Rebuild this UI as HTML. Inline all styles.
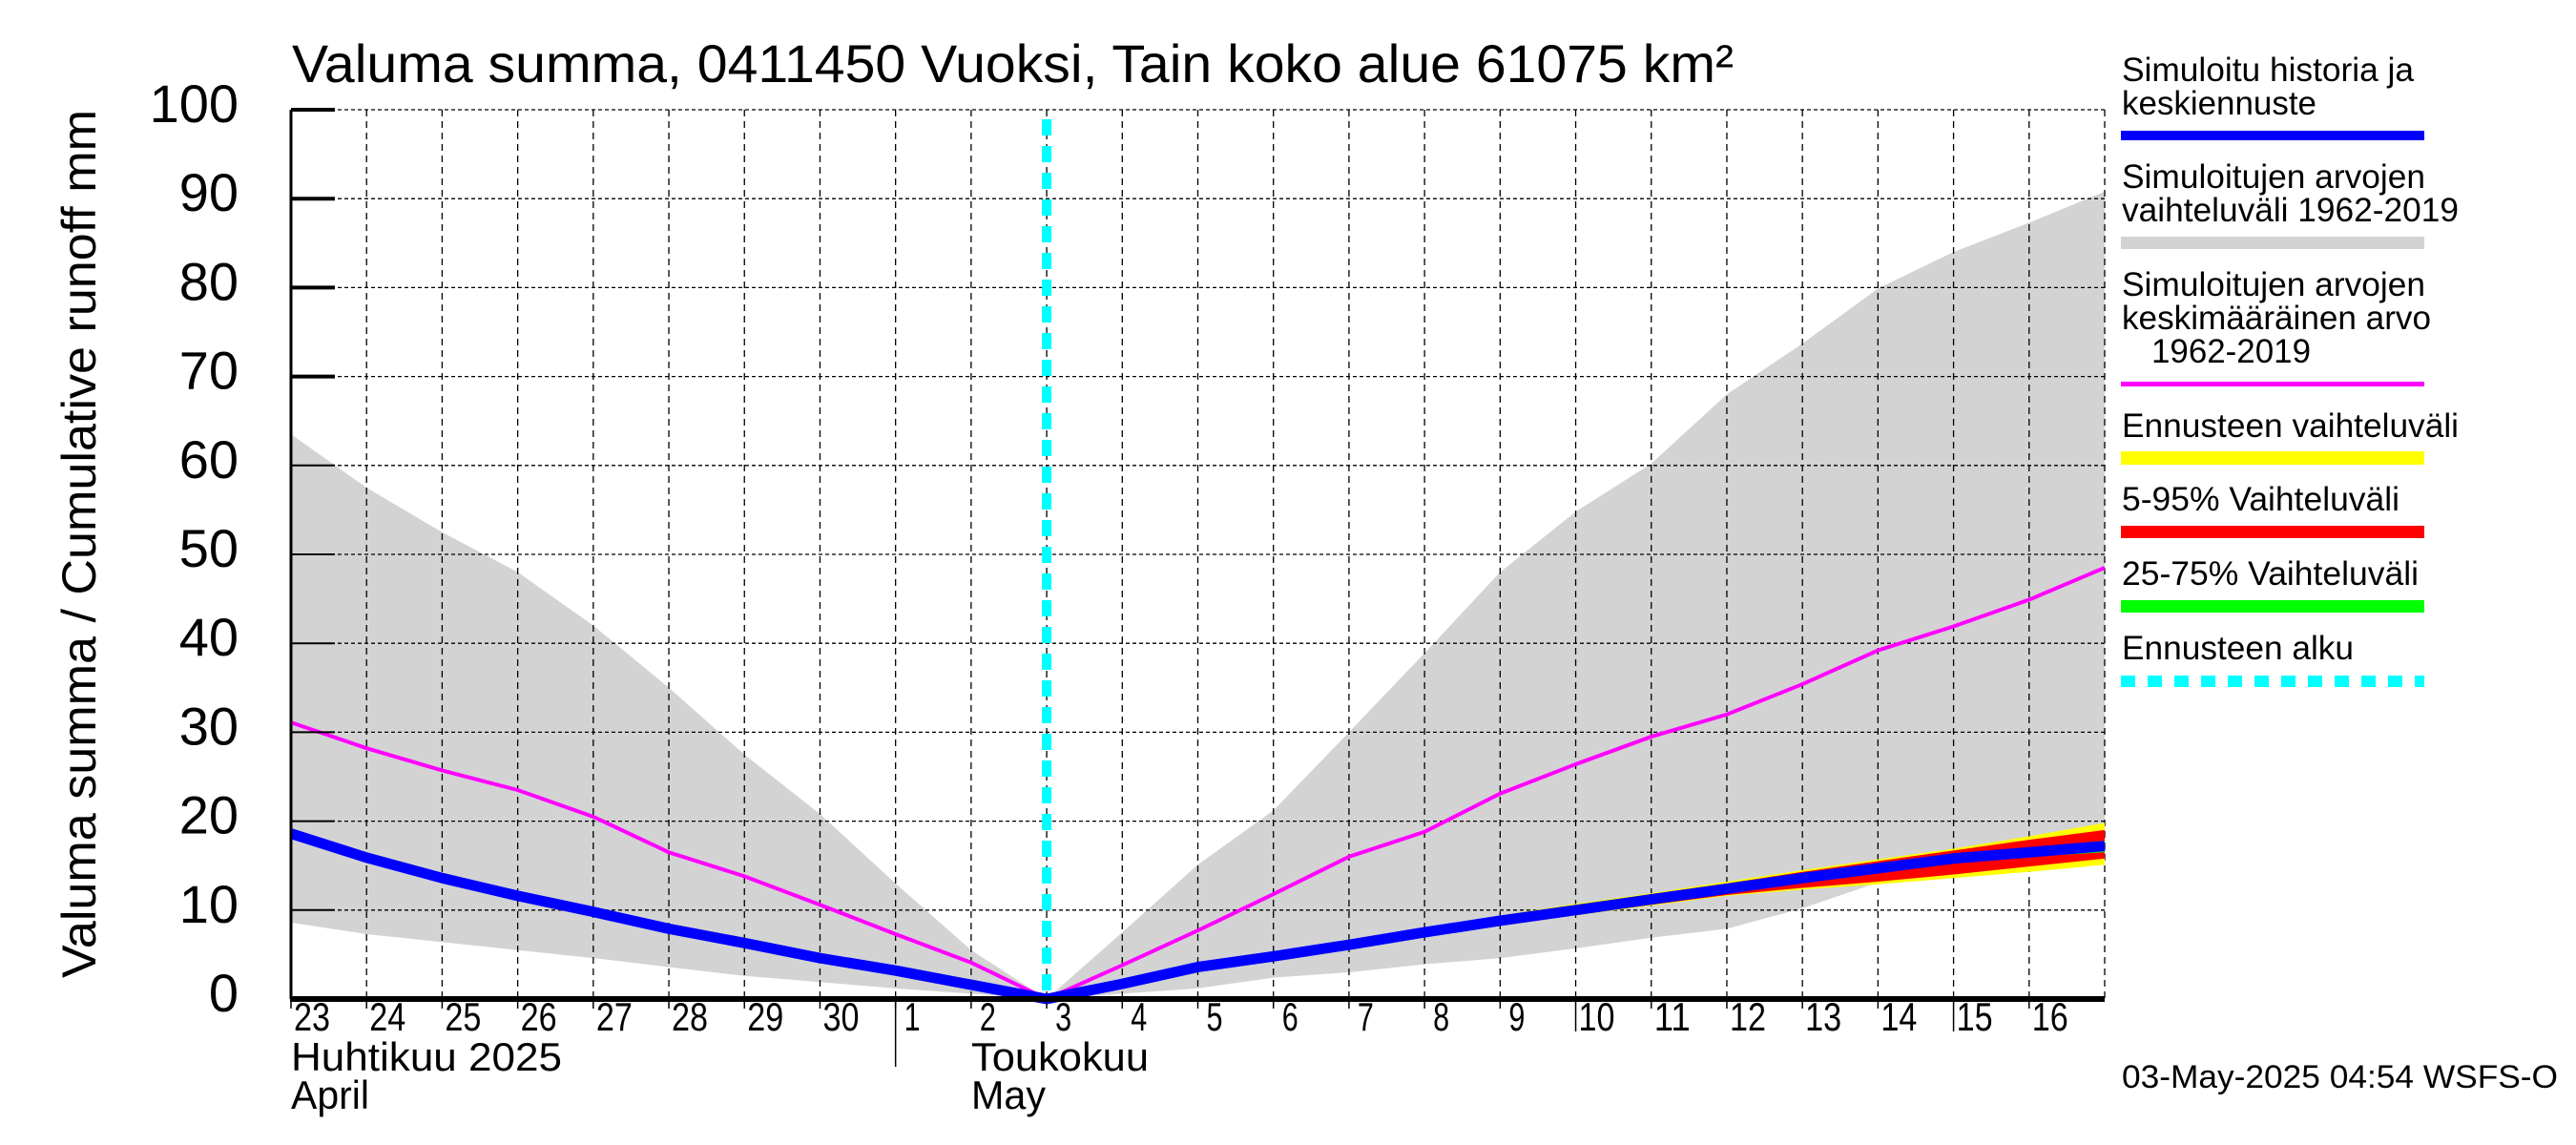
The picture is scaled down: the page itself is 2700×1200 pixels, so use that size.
<!DOCTYPE html>
<html><head><meta charset="utf-8"><style>html,body{margin:0;padding:0;background:#fff}svg{display:block}</style></head>
<body>
<svg id="chart" width="2700" height="1200" xmlns="http://www.w3.org/2000/svg" font-family="Liberation Sans, sans-serif">
<rect width="2700" height="1200" fill="#fff"/>
<g id="plot"></g>
<text x="306" y="86" font-size="56" textLength="1511" lengthAdjust="spacingAndGlyphs">Valuma summa, 0411450 Vuoksi, Tain koko alue 61075 km²</text>
<text transform="translate(100,1025) rotate(-90)" font-size="50" textLength="910" lengthAdjust="spacingAndGlyphs">Valuma summa / Cumulative runoff    mm</text>
<text x="305" y="1122" font-size="42" textLength="284" lengthAdjust="spacingAndGlyphs">Huhtikuu  2025</text>
<text x="305" y="1162" font-size="42" textLength="82" lengthAdjust="spacingAndGlyphs">April</text>
<text x="1018" y="1122" font-size="42" textLength="186" lengthAdjust="spacingAndGlyphs">Toukokuu</text>
<text x="1018" y="1162" font-size="42" textLength="78" lengthAdjust="spacingAndGlyphs">May</text>
<text x="2224" y="1140" font-size="34" textLength="457" lengthAdjust="spacingAndGlyphs">03-May-2025 04:54 WSFS-O</text>
<g font-size="35">
<text x="2224" y="85" textLength="306" lengthAdjust="spacingAndGlyphs">Simuloitu historia ja</text>
<text x="2224" y="120" textLength="204" lengthAdjust="spacingAndGlyphs">keskiennuste</text>
<rect x="2223" y="137" width="318" height="10" fill="#0000ff"/>
<text x="2224" y="197" textLength="318" lengthAdjust="spacingAndGlyphs">Simuloitujen arvojen</text>
<text x="2224" y="232" textLength="353" lengthAdjust="spacingAndGlyphs">vaihteluväli 1962-2019</text>
<rect x="2223" y="248" width="318" height="13" fill="#d3d3d3"/>
<text x="2224" y="310" textLength="318" lengthAdjust="spacingAndGlyphs">Simuloitujen arvojen</text>
<text x="2224" y="345" textLength="324" lengthAdjust="spacingAndGlyphs">keskimääräinen arvo</text>
<text x="2255" y="380" textLength="167" lengthAdjust="spacingAndGlyphs">1962-2019</text>
<rect x="2223" y="400" width="318" height="5" fill="#ff00ff"/>
<text x="2224" y="458" textLength="353" lengthAdjust="spacingAndGlyphs">Ennusteen vaihteluväli</text>
<rect x="2223" y="473" width="318" height="14" fill="#ffff00"/>
<text x="2224" y="535" textLength="291" lengthAdjust="spacingAndGlyphs">5-95% Vaihteluväli</text>
<rect x="2223" y="551" width="318" height="13" fill="#ff0000"/>
<text x="2224" y="613" textLength="311" lengthAdjust="spacingAndGlyphs">25-75% Vaihteluväli</text>
<rect x="2223" y="629" width="318" height="13" fill="#00ff00"/>
<text x="2224" y="691" textLength="243" lengthAdjust="spacingAndGlyphs">Ennusteen alku</text>
<line x1="2223" y1="714" x2="2541" y2="714" stroke="#00ffff" stroke-width="12" stroke-dasharray="15,13"/>
</g>
</svg>
<script>
// day index 0 = 23 Apr, 10 = 3 May (forecast start), 24 = 17 May
const dayLabels = ["23","24","25","26","27","28","29","30","1","2","3","4","5","6","7","8","9","10","11","12","13","14","15","16"];
const yTicks = [0,10,20,30,40,50,60,70,80,90,100];
const histMax = [63.5,57.5,52.5,48,42,35,27.5,20.8,13,5.5,0,7.5,15.1,21.2,30,38.9,48,54.8,60.2,68,73.7,79.9,84,87.3,90.8];
const histMin = [8.6,7.3,6.4,5.5,4.6,3.6,2.6,1.9,1.2,0.6,0,0.6,1.2,2.4,3.0,3.9,4.6,5.7,6.9,7.9,10.2,13.1,16.1,17,17.5];
const histMean = [31.1,28.2,25.7,23.5,20.5,16.5,13.8,10.6,7.3,4.1,0,3.8,7.7,11.8,16.0,18.8,23.1,26.4,29.5,32.0,35.4,39.2,41.9,44.9,48.5];
const simulated = [18.6,15.9,13.6,11.6,9.8,7.9,6.3,4.6,3.2,1.6,0,1.7,3.6,4.8,6.1,7.5,8.8,10.0,11.2,12.4,13.6,14.7,15.8,16.5,17.2];
const fcStart = 10;
const fcMax = [0,1.9,3.9,5.2,6.6,8.0,9.4,10.7,11.9,13.2,14.5,15.7,16.9,18.3,19.8];
const fcMin = [0,1.5,3.3,4.5,5.7,7.0,8.3,9.4,10.5,11.6,12.3,12.9,13.6,14.3,15.1];
const p95 = [0,1.8,3.8,5.1,6.5,7.9,9.3,10.5,11.8,13.0,14.3,15.5,16.7,17.9,19.0];
const p05 = [0,1.6,3.4,4.6,5.8,7.1,8.4,9.5,10.6,11.7,12.5,13.2,14.0,14.9,15.8];
const p75 = [0,1.75,3.7,4.9,6.3,7.7,9.0,10.2,11.4,12.6,13.8,15.0,16.2,17.0,17.8];
const p25 = [0,1.65,3.5,4.7,5.9,7.3,8.6,9.8,11.0,12.2,13.4,14.4,15.4,16.0,16.5];

const X0=305, X1=2206, Y0=1047, Y1=115, NDAYS=24, YMAX=100;
const sx = d => X0 + d*(X1-X0)/NDAYS;
const sy = v => Y0 - v*(Y0-Y1)/YMAX;
const NS="http://www.w3.org/2000/svg";
const plot=document.getElementById('plot');
function mk(tag, attrs, parent){const e=document.createElementNS(NS,tag);for(const k in attrs)e.setAttribute(k,attrs[k]);(parent||plot).appendChild(e);return e;}
function pts(arr, off){return arr.map((v,i)=>sx(i+off)+','+sy(v)).join(' ');}
function band(up, lo, off, fill, name){
  const p = up.map((v,i)=>sx(i+off)+','+sy(v)).concat(lo.map((v,i)=>[i,v]).reverse().map(([i,v])=>sx(i+off)+','+sy(v))).join(' ');
  const e=mk('polygon',{points:p,fill:fill});
  
  
}
band(histMax, histMin, 0, '#d3d3d3', 'historical-range-band');
for(let i=1;i<=NDAYS;i++){
  const g=mk('line',{x1:sx(i),x2:sx(i),y1:Y1,y2:Y0,stroke:'#000','stroke-width':1.3,'stroke-dasharray':'7,5'});
  
  
}
yTicks.forEach(v=>{ if(v===0) return;
  const g=mk('line',{x1:X0,x2:X1,y1:sy(v),y2:sy(v),stroke:'#000','stroke-width':1.3,'stroke-dasharray':'4,3'});
  
  
});
const mean=mk('polyline',{points:pts(histMean,0),fill:'none',stroke:'#ff00ff','stroke-width':4});


band(fcMax, fcMin, fcStart, '#ffff00', 'forecast-range-band');
band(p95, p05, fcStart, '#ff0000', 'forecast-5-95-band');
band(p75, p25, fcStart, '#00ff00', 'forecast-25-75-band');
const sim=mk('polyline',{points:pts(simulated,0),fill:'none',stroke:'#0000ff','stroke-width':11,'stroke-linejoin':'round'});


const fs=mk('line',{x1:sx(fcStart),x2:sx(fcStart),y1:125,y2:Y0,stroke:'#00ffff','stroke-width':10,'stroke-dasharray':'17,11'});


const ya=mk('line',{x1:X0,x2:X0,y1:Y1,y2:Y0,stroke:'#000','stroke-width':3});


const xa=mk('line',{x1:X0-1,x2:X1,y1:Y0,y2:Y0,stroke:'#000','stroke-width':6});


yTicks.forEach(v=>{
  const t=mk('line',{x1:X0,x2:X0+46,y1:sy(v),y2:sy(v),stroke:'#000','stroke-width':v>=70?4:2});
  
  
  const l=mk('text',{x:250,y:sy(v)+13,'font-size':56,'text-anchor':'end'});
  l.textContent=String(v);
  
  
});
dayLabels.forEach((d,i)=>{
  const long = (d==='10'||d==='15');
  const t=mk('line',{x1:sx(i),x2:sx(i),y1:Y0,y2:long?1081:1057,stroke:'#000','stroke-width':1.5});
  
  
  const l=mk('text',{x:sx(i)+(d.length===1?9:3),y:1080,'font-size':42,textLength:d.length===1?17:38,lengthAdjust:'spacingAndGlyphs'});
  l.textContent=d;
  
  
});
const sep=mk('line',{x1:sx(8),x2:sx(8),y1:Y0,y2:1118,stroke:'#000','stroke-width':1.5});


</script>
</body></html>
